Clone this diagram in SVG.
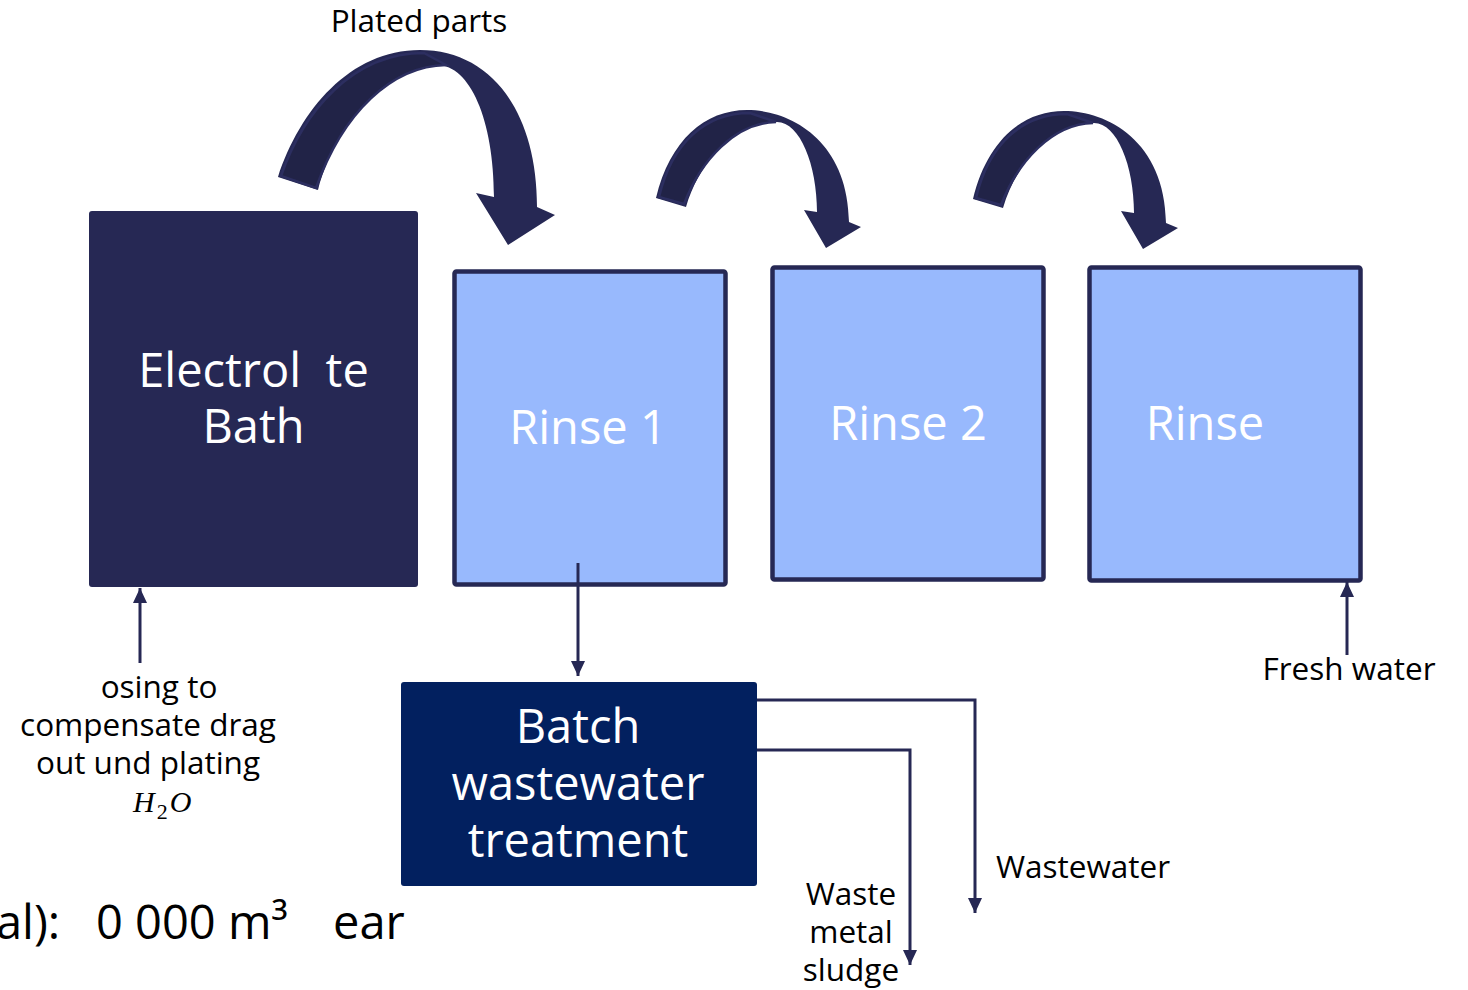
<svg xmlns="http://www.w3.org/2000/svg" width="1468" height="990" viewBox="0 0 1468 990">
<defs>
<style>
.lbl{font-family:"Open Sans","Liberation Sans",sans-serif;font-size:31.5px;fill:#000;text-anchor:middle}
.big{font-family:"Open Sans","Liberation Sans",sans-serif;font-size:47px;fill:#fff;text-anchor:middle;white-space:pre}
.rinse{fill:#98B9FD;stroke:#262854;stroke-width:4.5}
.con{fill:none;stroke:#262854;stroke-width:3}
.arc{fill:#262854}
.arcdark{fill:#212347;stroke:#2c2e60;stroke-width:2.5}
</style>
<marker id="ah" viewBox="0 0 15 14" refX="15" refY="7" markerWidth="15" markerHeight="14" markerUnits="userSpaceOnUse" orient="auto">
<path d="M0,0 L15,7 L0,14 z" fill="#262854"/>
</marker>
<path id="smallArc" d="M 656 198 C 670 140 705 110 747 110 C 790 110 848 140 849 222 L 861 227 L 826 248 L 804 210 L 817 212 C 817 165 800 122 777 122 C 735 122 700 160 686 207 Z"/>
<path id="smallDark" d="M 659 197 C 672 142 706 113 750 113 L 776 122 C 735 123 701 160 684 204 Z"/>
</defs>
<rect width="1468" height="990" fill="#fff"/>

<g id="electrolyte-bath">
<rect x="89" y="211" width="329" height="376" rx="3" fill="#262854"/>
<text class="big" x="253.5" y="387" xml:space="preserve">Electrol  te</text>
<text class="big" x="253.5" y="443">Bath</text>
</g>

<g id="rinse-1">
<rect class="rinse" x="454.5" y="271.5" width="271" height="313" rx="2"/>
<text class="big" x="588" y="444">Rinse 1</text>
</g>

<g id="rinse-2">
<rect class="rinse" x="772.5" y="267.5" width="271" height="312" rx="2"/>
<text class="big" x="908" y="440">Rinse 2</text>
</g>

<g id="rinse-3">
<rect class="rinse" x="1089.5" y="267.5" width="271" height="313" rx="2"/>
<text class="big" x="1205" y="440">Rinse</text>
</g>

<g id="batch-treatment">
<rect x="401" y="682" width="356" height="204" rx="3" fill="#02205F"/>
<text class="big" x="578" y="743">Batch</text>
<text class="big" x="578" y="800">wastewater</text>
<text class="big" x="578" y="857">treatment</text>
</g>

<g id="connectors">
<path class="arc" d="M 278 177 C 300 110 350 50 420 50 C 490 50 537 110 537 207 L 555 215 L 508 245 L 476 193 L 494 197 C 494 120 470 65 437 65 C 390 65 340 110 318 190 Z"/>
<path class="arcdark" d="M 281 176 C 303 112 352 53 424 53 L 446 65 C 392 66 343 112 316 188 Z"/>
<use href="#smallArc" class="arc"/>
<use href="#smallDark" class="arcdark"/>
<g transform="translate(317,1)">
<use href="#smallArc" class="arc"/>
<use href="#smallDark" class="arcdark"/>
</g>
<path class="con" d="M 140 663 V 588" marker-end="url(#ah)"/>
<path class="con" d="M 578 563 V 676" marker-end="url(#ah)"/>
<path class="con" d="M 1347 655 V 582" marker-end="url(#ah)"/>
<path class="con" d="M 757 700 H 975 V 913" marker-end="url(#ah)"/>
<path class="con" d="M 757 750 H 910 V 965" marker-end="url(#ah)"/>
</g>

<g id="labels">
<text class="lbl" x="419" y="32">Plated parts</text>
<text class="lbl" x="159" y="698">osing to</text>
<text class="lbl" x="148" y="736">compensate drag</text>
<text class="lbl" x="148" y="774">out und plating</text>
<text x="133" y="812" font-family="'Liberation Serif',serif" font-style="italic" font-size="30" fill="#000">H<tspan font-size="22" dx="2" dy="7" font-style="normal">2</tspan><tspan dx="2" dy="-7">O</tspan></text>
<text class="lbl" x="1349" y="680">Fresh water</text>
<text class="lbl" x="1083" y="878">Wastewater</text>
<text class="lbl" x="851" y="905">Waste</text>
<text class="lbl" x="851" y="943">metal</text>
<text class="lbl" x="851" y="981">sludge</text>
<text font-family="'Open Sans','Liberation Sans',sans-serif" font-size="47" fill="#000" y="939"><tspan x="-4">al):</tspan><tspan x="96">0 000 m³</tspan><tspan x="333">ear</tspan></text>
</g>
</svg>
